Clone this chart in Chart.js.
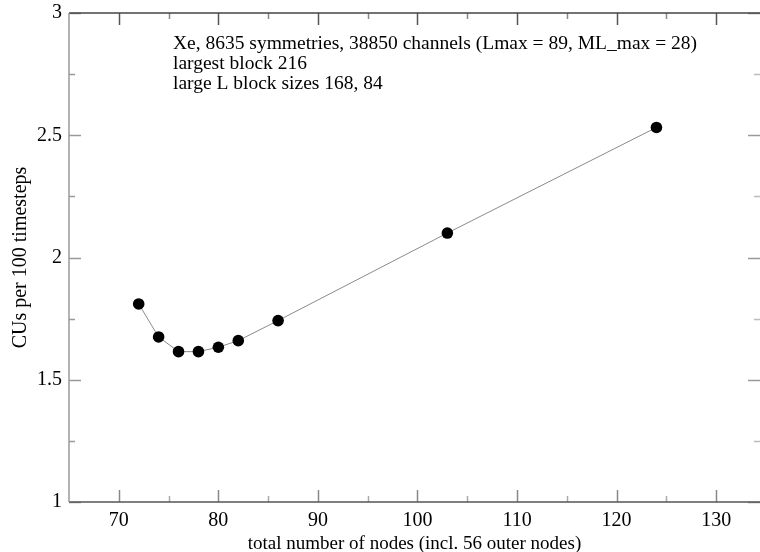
<!DOCTYPE html>
<html>
<head>
<meta charset="utf-8">
<script src="https://cdn.jsdelivr.net/npm/chart.js@4.4.1/dist/chart.umd.min.js"></script>
<style>
  html, body { margin: 0; padding: 0; background: #fff; }
  #wrap { width: 760px; height: 552px; }
</style>
</head>
<body>
<div id="wrap"><canvas id="c" width="760" height="552"></canvas></div>
<script>
const nodes = [72, 74, 76, 78, 80, 82, 86, 103, 124];
const cuPer100 = [1.81, 1.675, 1.615, 1.615, 1.633, 1.66, 1.742, 2.10, 2.532];
const xTickValues = [70, 80, 90, 100, 110, 120, 130];
const xMinorValues = [75, 85, 95, 105, 115, 125];
const yTickValues = [1, 1.5, 2, 2.5, 3];
const yMinorValues = [1.25, 1.75, 2.25, 2.75];
const noteLines = [
  'Xe, 8635 symmetries, 38850 channels (Lmax = 89, ML_max = 28)',
  'largest block 216',
  'large L block sizes 168, 84'
];

const FONT = '"Liberation Serif", "DejaVu Serif", serif';

const framePlugin = {
  id: 'frame',
  afterDraw(chart) {
    const ctx = chart.ctx;
    const a = chart.chartArea;
    const xs = chart.scales.x, ys = chart.scales.y;
    ctx.save();
    ctx.lineWidth = 1.5;
    const tick = (x1, y1, x2, y2, col) => {
      ctx.strokeStyle = col;
      ctx.beginPath(); ctx.moveTo(x1, y1); ctx.lineTo(x2, y2); ctx.stroke();
    };
    const MAJ = 12, MIN = 6;
    xTickValues.forEach(v => {
      const px = Math.round(xs.getPixelForValue(v)) + 0.5;
      tick(px, a.bottom, px, a.bottom - MAJ, '#888');
      tick(px, a.top, px, a.top + MAJ, '#555');
    });
    xMinorValues.forEach(v => {
      const px = Math.round(xs.getPixelForValue(v)) + 0.5;
      tick(px, a.bottom, px, a.bottom - MIN, '#aaa');
      tick(px, a.top, px, a.top + MIN, '#888');
    });
    yTickValues.forEach(v => {
      const py = Math.round(ys.getPixelForValue(v)) + 0.5;
      tick(a.left, py, a.left + MAJ, py, '#999');
      tick(a.right, py, a.right - MAJ, py, '#999');
    });
    yMinorValues.forEach(v => {
      const py = Math.round(ys.getPixelForValue(v)) + 0.5;
      tick(a.left, py, a.left + MIN, py, '#999');
      tick(a.right, py, a.right - MIN, py, '#bbb');
    });
    tick(a.left, a.top, a.right, a.top, '#444');
    tick(a.left, a.bottom, a.right, a.bottom, '#555');
    tick(a.left, a.top, a.left, a.bottom, '#999');
    ctx.fillStyle = '#000';
    ctx.font = '19.5px ' + FONT;
    ctx.textBaseline = 'middle';
    ctx.textAlign = 'left';
    noteLines.forEach((t, i) => ctx.fillText(t, 173, 44 + i * 20));
    ctx.restore();
  }
};

const zeroPad = s => { s.paddingTop = 0; s.paddingBottom = 0; s.paddingLeft = 0; s.paddingRight = 0; };

new Chart(document.getElementById('c'), {
  type: 'scatter',
  data: {
    datasets: [{
      data: nodes.map((n, i) => ({ x: n, y: cuPer100[i] })),
      showLine: true,
      borderColor: '#8a8a8a',
      borderWidth: 1,
      pointBackgroundColor: '#000',
      pointBorderColor: '#000',
      pointRadius: 5.8,
      pointBorderWidth: 0
    }]
  },
  options: {
    responsive: false,
    animation: false,
    devicePixelRatio: 1,
    layout: { autoPadding: false, padding: { top: 13, right: 0, left: 0, bottom: 0 } },
    plugins: { legend: { display: false }, tooltip: { enabled: false } },
    scales: {
      x: {
        type: 'linear', min: 65, max: 134.4,
        grid: { display: false, drawTicks: false },
        border: { display: false },
        afterBuildTicks: s => { s.ticks = xTickValues.map(v => ({ value: v })); },
        afterFit: s => { s.height = 50; zeroPad(s); },
        ticks: { color: '#000', font: { family: FONT, size: 20 }, padding: 7, maxRotation: 0,
          callback: v => String(v) },
        title: { display: true, text: 'total number of nodes (incl. 56 outer nodes)', color: '#000',
          font: { family: FONT, size: 19 }, padding: { top: 0, bottom: -3 } }
      },
      y: {
        type: 'linear', min: 1, max: 3,
        grid: { display: false, drawTicks: false },
        border: { display: false },
        afterBuildTicks: s => { s.ticks = yTickValues.map(v => ({ value: v })); },
        afterFit: s => { s.width = 69; zeroPad(s); },
        ticks: { color: '#000', font: { family: FONT, size: 20 }, padding: 7,
          callback: v => String(v) },
        title: { display: true, text: 'CUs per 100 timesteps', color: '#000',
          font: { family: FONT, size: 20 }, padding: { top: 9, bottom: 0 } }
      }
    }
  },
  plugins: [framePlugin]
});
</script>
</body>
</html>
